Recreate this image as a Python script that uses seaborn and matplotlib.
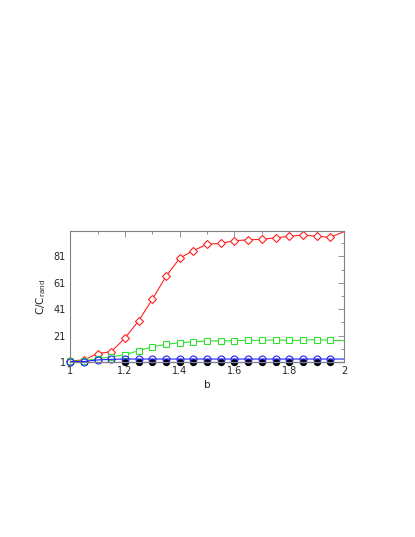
import matplotlib
matplotlib.use("Agg")
import matplotlib.pyplot as plt
import numpy as np
import seaborn as sns

# x positions of the samples (line runs to b=2, markers stop at 1.95)
b = [1.0, 1.05, 1.1, 1.15, 1.2, 1.25, 1.3, 1.35, 1.4, 1.45, 1.5,
     1.55, 1.6, 1.65, 1.7, 1.75, 1.8, 1.85, 1.9, 1.95, 2.0]

red = [1.8, 2.5, 7.3, 8.8, 19.1, 32.2, 48.5, 65.9, 79.7, 85.5, 90.3,
       91.0, 93.0, 93.6, 94.1, 95.1, 96.3, 97.3, 96.3, 95.6, 99.8]
green = [1.5, 1.8, 3.5, 4.8, 6.5, 9.5, 12.5, 14.3, 15.6, 16.3, 16.9,
         16.9, 17.2, 17.4, 17.4, 17.7, 17.4, 17.4, 18.0, 17.4, 17.2]
blue = [1.3, 1.3, 2.5, 3.0, 3.2, 3.2, 3.2, 3.2, 3.2, 3.2, 3.2,
        3.2, 3.2, 3.2, 3.2, 3.2, 3.2, 3.2, 3.2, 3.2, 3.2]
black = [1.0] * 21

sns.set_style("white")
plt.rcParams['font.family'] = ['DejaVu Sans']

fig = plt.figure(figsize=(4.15, 5.37), dpi=100)
ax = fig.add_axes([0.169, 0.326, 0.66, 0.243])

common = dict(ax=ax, linewidth=0.8, clip_on=False)
sns.lineplot(x=b, y=red, color='#ff2020', marker='D', markersize=4,
             markerfacecolor='white', markeredgecolor='#ff2020', markeredgewidth=0.8,
             markevery=slice(0, 20), **common)
sns.lineplot(x=b, y=green, color='#30e030', marker='s', markersize=4.3,
             markerfacecolor='white', markeredgecolor='#30e030', markeredgewidth=0.8,
             markevery=slice(0, 20), **common)
sns.lineplot(x=b, y=black, color='black', marker='o', markersize=4.5,
             markerfacecolor='black', markeredgecolor='black',
             markevery=slice(4, 20), **common)
sns.lineplot(x=b, y=blue, color='#2020ff', marker='o', markersize=5,
             markerfacecolor='none', markeredgecolor='#2020ff', markeredgewidth=0.8,
             markevery=slice(0, 20), **common)

ax.set_xlim(1, 2)
ax.set_ylim(1, 100)
ax.set_xticks([1, 1.2, 1.4, 1.6, 1.8, 2])
ax.set_xticklabels(['1', '1.2', '1.4', '1.6', '1.8', '2'])
ax.set_xticks([1.1, 1.3, 1.5, 1.7, 1.9], minor=True)
ax.set_yticks([1, 21, 41, 61, 81])
ax.set_yticks([11, 31, 51, 71, 91], minor=True)
ax.tick_params(which='both', direction='in', top=True, right=True,
               labelsize=7, color='#808080', pad=3)
ax.tick_params(which='major', length=4, width=0.6)
ax.tick_params(which='minor', length=2, width=0.6)
for s in ax.spines.values():
    s.set_color('#808080')
    s.set_linewidth(0.8)

ax.set_xlabel('b', fontsize=7.5, labelpad=3)
ax.set_ylabel(r'C/C$_{\rm rand}$', fontsize=7.5, labelpad=4)

fig.savefig('out.png', dpi=100)
